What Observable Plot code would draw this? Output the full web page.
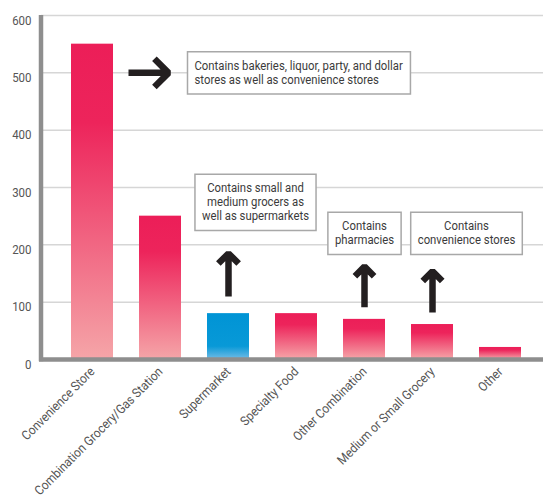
<!DOCTYPE html>
<html><head><meta charset="utf-8">
<script src="https://cdn.jsdelivr.net/npm/d3@7"></script>
<script src="https://cdn.jsdelivr.net/npm/@observablehq/plot@0.6"></script>
<style>
body{margin:0;background:#fff;}
#chart svg{display:block;}
</style></head><body><div id="chart"></div>
<script>
const categories = ["Convenience Store","Combination Grocery/Gas Station","Supermarket","Specialty Food","Other Combination","Medium or Small Grocery","Other"];
const values = [550,250,80,80,70,61,21];
const highlighted = "Supermarket";
const yTicks = [0,100,200,300,400,500,600];

const noteTexts = [
  "Contains bakeries, liquor, party, and dollar\nstores as well as convenience stores",
  "Contains small and\nmedium grocers as\nwell as supermarkets",
  "Contains\npharmacies",
  "Contains\nconvenience stores"
];
const noteCategories = ["Combination Grocery/Gas Station","Supermarket","Other Combination","Medium or Small Grocery"];
const noteValues = [501, 275, 221, 221];

// horizontal arrow (from Convenience Store toward the first note)
const hArrowFrom = ["Convenience Store"];
const hArrowTo = ["Supermarket"];
const hArrowValue = [500];
// vertical arrows
const vArrowCategories = ["Supermarket","Other Combination","Medium or Small Grocery"];
const vArrowStart = [110, 91, 82];
const vArrowEnd = [185, 162, 154];

const FONT = 'Roboto,"Liberation Sans",sans-serif';
const NS = "http://www.w3.org/2000/svg";

const bars = categories.map((c, i) => ({category: c, value: values[i]}));
const notes = noteTexts.map((t, i) => ({text: t, category: noteCategories[i], value: noteValues[i]}));
const hArrows = hArrowFrom.map((c, i) => ({from: c, to: hArrowTo[i], value: hArrowValue[i]}));
const vArrows = vArrowCategories.map((c, i) => ({category: c, start: vArrowStart[i], end: vArrowEnd[i]}));

function gradientDefs() {
  const defs = document.createElementNS(NS, "defs");
  const make = (id, stops) => {
    const g = document.createElementNS(NS, "linearGradient");
    g.setAttribute("id", id);
    g.setAttribute("x1", 0); g.setAttribute("y1", 0);
    g.setAttribute("x2", 0); g.setAttribute("y2", 1);
    for (const [o, c] of stops) {
      const s = document.createElementNS(NS, "stop");
      s.setAttribute("offset", o); s.setAttribute("stop-color", c);
      g.appendChild(s);
    }
    defs.appendChild(g);
  };
  make("pinkGrad", [[0, "#ec1e58"], [0.25, "#ed245b"], [1, "#f5a5a8"]]);
  make("blueGrad", [[0, "#0094d5"], [0.72, "#0899d7"], [1, "#72bbe6"]]);
  return defs;
}

function leftAxisLine(index, scales, values, dims) {
  const l = document.createElementNS(NS, "line");
  l.setAttribute("x1", dims.marginLeft); l.setAttribute("x2", dims.marginLeft);
  l.setAttribute("y1", scales.y(600));
  l.setAttribute("y2", scales.y(0) + 2.25);
  l.setAttribute("stroke", "#8e8e8e");
  l.setAttribute("stroke-width", 4.5);
  return l;
}

const noteLayout = [
  {dx: 34, textAnchor: "start"},
  {dx: 27, textAnchor: "middle"},
  {dx: 0, textAnchor: "middle"},
  {dx: 34, textAnchor: "middle"}
];

const noteMarks = notes.map((n, i) => Plot.text([n], {
  x: "category", y: "value", text: "text",
  dx: noteLayout[i].dx, textAnchor: noteLayout[i].textAnchor,
  fontSize: 13.5, lineHeight: 1.04, fill: "#3b3b3b", fontFamily: FONT
}));

const svg = Plot.plot({
  width: 543, height: 500,
  marginLeft: 41, marginRight: 0, marginTop: 15, marginBottom: 141,
  style: {fontFamily: FONT, background: "white", overflow: "visible"},
  x: {domain: categories, range: [70, 522.4], paddingInner: 0.386, paddingOuter: 0, label: null},
  y: {domain: [0, 600], label: null},
  color: {type: "identity"},
  marks: [
    gradientDefs,
    Plot.gridY(yTicks, {stroke: "#d6d6d6", strokeOpacity: 1, strokeWidth: 1.5}),
    Plot.barY(bars, {x: "category", y: "value",
      fill: d => d.category === highlighted ? "url(#blueGrad)" : "url(#pinkGrad)"}),
    Plot.ruleY([0], {stroke: "#8e8e8e", strokeWidth: 4.5, insetLeft: -2}),
    leftAxisLine,
    Plot.axisY({ticks: yTicks, tickSize: 0, tickPadding: 10, dy: 5, fontSize: 13.5, color: "#555", label: null}),
    Plot.axisX({tickRotate: -45, tickSize: 0, tickPadding: 10, fontSize: 13, color: "#555", label: null}),
    Plot.arrow(hArrows, {x1: "from", x2: "to", y1: "value", y2: "value",
      stroke: "#231f20", strokeWidth: 6.5, headAngle: 90, headLength: 4.6,
      insetStart: 36, insetEnd: 60, strokeLinejoin: "miter", strokeLinecap: "butt"}),
    Plot.arrow(vArrows, {x: "category", y1: "start", y2: "end",
      stroke: "#231f20", strokeWidth: 6.5, headAngle: 90, headLength: 8,
      strokeLinejoin: "miter", strokeLinecap: "butt"}),
    ...noteMarks
  ]
});

document.getElementById("chart").append(svg);

// condense text horizontally (the original uses a condensed typeface)
function squeeze(selector, k) {
  svg.querySelectorAll(selector).forEach(t => {
    let tr = t.getAttribute("transform");
    if (!tr) {
      const x = +t.getAttribute("x") || 0, y = +t.getAttribute("y") || 0;
      t.removeAttribute("x"); t.removeAttribute("y");
      tr = `translate(${x},${y})`;
    }
    t.setAttribute("transform", `${tr} scale(${k},1)`);
  });
}
const NOTE_K = 0.84;
squeeze('g[aria-label="x-axis tick label"] text', 0.9);
squeeze('g[aria-label="y-axis tick label"] text', 0.85);
squeeze('g[aria-label="text"] text', NOTE_K);

// draw boxes around the note texts
svg.querySelectorAll('g[aria-label="text"] text').forEach(t => {
  const b = t.getBBox();
  const r = document.createElementNS(NS, "rect");
  r.setAttribute("x", b.x - 7 / NOTE_K);
  r.setAttribute("y", b.y - 5);
  r.setAttribute("width", b.width + 14 / NOTE_K);
  r.setAttribute("height", b.height + 12);
  r.setAttribute("fill", "white");
  r.setAttribute("stroke", "#a8a8a8");
  r.setAttribute("stroke-width", 1.5);
  r.setAttribute("vector-effect", "non-scaling-stroke");
  r.setAttribute("transform", t.getAttribute("transform"));
  t.parentNode.insertBefore(r, t);
});
</script>
</body></html>
